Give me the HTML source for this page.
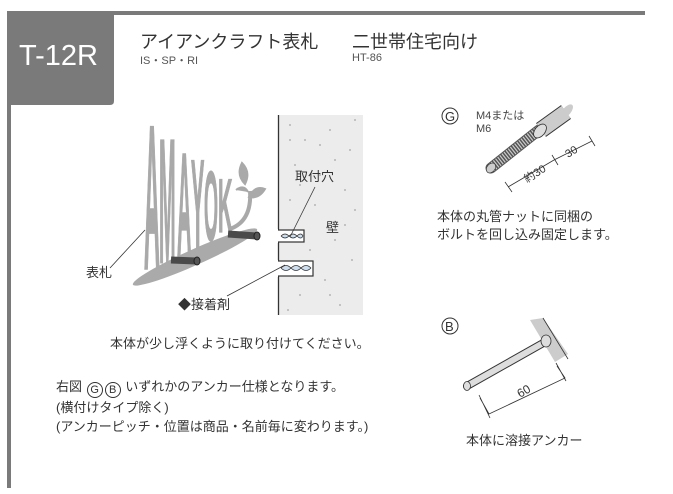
<!DOCTYPE html>
<html><head><meta charset="utf-8"><style>
body{margin:0;background:#fff;width:673px;height:494px;overflow:hidden;position:relative;font-family:"Liberation Sans","Noto Sans CJK JP",sans-serif;color:#333}
.t{position:absolute;white-space:nowrap}
.c{display:inline-block;width:14px;height:14px;border:1px solid #333;border-radius:50%;font-size:11px;line-height:14px;text-align:center;vertical-align:-2px;margin:0 1px}
</style></head><body>
<svg width="673" height="494" style="position:absolute;left:0;top:0">
<rect x="8" y="11" width="637" height="4" fill="#7a7a7a"/>
<rect x="7" y="11" width="4" height="477" fill="#7a7a7a"/>
<path d="M8 17 Q8 13 14 13 L114 13 L114 101 Q114 105 110 105 L8 105 Z" fill="#7a7a7a"/>
<text x="19" y="65" font-size="29" fill="#fff" font-family="Liberation Sans,sans-serif">T-12R</text>
<rect x="278" y="115" width="85" height="200" fill="#ececec"/>
<g fill="#b5b5b5">
<circle cx="290" cy="125" r="1"/><circle cx="305" cy="140" r="1"/><circle cx="330" cy="130" r="1"/><circle cx="350" cy="150" r="1"/><circle cx="295" cy="165" r="1"/><circle cx="320" cy="175" r="1"/><circle cx="345" cy="190" r="1"/><circle cx="315" cy="205" r="1"/><circle cx="335" cy="240" r="1"/><circle cx="352" cy="260" r="1"/><circle cx="325" cy="280" r="1"/><circle cx="300" cy="295" r="1"/><circle cx="340" cy="305" r="1"/><circle cx="290" cy="200" r="1"/><circle cx="355" cy="120" r="1"/><circle cx="310" cy="250" r="1"/><circle cx="345" cy="225" r="1"/><circle cx="288" cy="310" r="1"/><circle cx="320" cy="145" r="1"/><circle cx="300" cy="185" r="1"/><circle cx="335" cy="160" r="1"/><circle cx="355" cy="210" r="1"/><circle cx="330" cy="295" r="1"/><circle cx="290" cy="140" r="1"/></g>
<line x1="278.5" y1="115" x2="278.5" y2="315" stroke="#333" stroke-width="1.3"/>
<rect x="276" y="230" width="28" height="12" fill="#fff" stroke="#333" stroke-width="1.2"/>
<rect x="276" y="261" width="37" height="15" fill="#fff" stroke="#333" stroke-width="1.2"/>
<rect x="272" y="229" width="6" height="14" fill="#fff"/><rect x="272" y="260" width="6" height="17" fill="#fff"/>
<path d="M281 236 q4 4 8 0 q4 4 8 0 q4 4 6 0 M281 236 q4 -4 8 0 q4 -4 8 0 q4-4 6 0" fill="#cde" stroke="#333" stroke-width=".8"/>
<path d="M281 268 q5 5 10 0 q5 5 10 0 q5 5 10 0 M281 268 q5 -5 10 0 q5 -5 10 0 q5 -5 10 0" fill="#cde" stroke="#333" stroke-width=".8"/>
<ellipse cx="195" cy="257" rx="68" ry="8" transform="rotate(-24 195 257)" fill="#aaa"/>
<g fill="#a9a9a9" stroke="#a9a9a9" stroke-width="0.35" font-family="Liberation Sans,sans-serif" font-weight="bold" font-size="20">
<text transform="translate(144,268) scale(1.1,10.2)">A</text>
<text transform="translate(159,262) scale(1.0,8.8)">M</text>
<text transform="translate(177,255) scale(1.0,7.3)">A</text>
<text transform="translate(191,248) scale(1.0,6.3)">Y</text>
<text transform="translate(204,240) scale(0.9,4.9)">O</text>
<text transform="translate(218,232) scale(1.0,3.8)">K</text>
</g>
<path d="M230 229 q22 -8 20 -38" fill="none" stroke="#a9a9a9" stroke-width="4"/>
<path d="M245 184 q-9 -9 -3 -21 q9 9 3 21 Z M249 197 q6 -12 16 -8 q-6 10 -16 8 Z M236 190 q8 -6 12 2" fill="#a9a9a9" stroke="#a9a9a9" stroke-width="2"/>
<line x1="171" y1="260" x2="196" y2="261" stroke="#4a4a4a" stroke-width="7"/>
<ellipse cx="197" cy="261" rx="3" ry="4" fill="#555" stroke="#222"/>
<line x1="228" y1="234" x2="256" y2="236" stroke="#4a4a4a" stroke-width="7"/>
<ellipse cx="257" cy="236" rx="3" ry="4" fill="#555" stroke="#222"/>
<line x1="145" y1="230" x2="110" y2="268" stroke="#333" stroke-width=".8"/>
<line x1="315" y1="187" x2="290" y2="237" stroke="#333" stroke-width=".8"/>
<line x1="285" y1="265" x2="227" y2="296" stroke="#333" stroke-width=".8"/>
<circle cx="450" cy="116" r="8" fill="none" stroke="#333"/>
<text x="445" y="121" font-size="13" fill="#333">G</text>
<line x1="539" y1="130" x2="491" y2="168" stroke="#555" stroke-width="11" stroke-linecap="round"/>
<line x1="539" y1="130" x2="491" y2="168" stroke="#ccc" stroke-width="9" stroke-dasharray="1.2 1.5"/>
<line x1="566" y1="112" x2="541" y2="130" stroke="#333" stroke-width="17"/>
<line x1="566" y1="112" x2="541" y2="130" stroke="#ccc" stroke-width="15"/>
<ellipse cx="540" cy="131" rx="5" ry="8" transform="rotate(40 540 131)" fill="#ddd" stroke="#333" stroke-width=".8"/>
<ellipse cx="567" cy="111" rx="4" ry="8" transform="rotate(40 567 111)" fill="#ccc"/>
<ellipse cx="491" cy="168" rx="4" ry="5.5" transform="rotate(40 491 168)" fill="#ccc" stroke="#333" stroke-width=".6"/>
<path d="M508 187 L554 160 L592 141 M505 182 L512 192 M552 155 L558 165 M589 136 L595 146" stroke="#333" stroke-width=".8" fill="none"/>
<text transform="translate(527,183) rotate(-32)" font-size="11" fill="#333">約30</text>
<text transform="translate(568,158) rotate(-32)" font-size="11" fill="#333">30</text>
<circle cx="450" cy="326" r="8" fill="none" stroke="#333"/>
<text x="445" y="331" font-size="13" fill="#333">B</text>
<path d="M530 320 L543 318 L568 354 L555 362 Z" fill="#ccc"/>
<line x1="543" y1="318" x2="568" y2="359" stroke="#333" stroke-width=".8"/>
<line x1="545" y1="342" x2="467" y2="386" stroke="#333" stroke-width="8" stroke-linecap="round"/>
<line x1="545" y1="342" x2="467" y2="386" stroke="#ddd" stroke-width="6"/>
<ellipse cx="467" cy="386" rx="3.5" ry="4.5" fill="#ddd" stroke="#333" stroke-width=".8"/>
<ellipse cx="546" cy="341" rx="5" ry="6" fill="#ddd" stroke="#333" stroke-width=".8"/>
<path d="M480 398 L489 414 L565 378 L557 366 M479 395 L490 418 M556 363 L566 381" stroke="#333" stroke-width=".8" fill="none"/>
<text transform="translate(520,398) rotate(-30)" font-size="12" fill="#333">60</text>
</svg>
<div class="t" style="left:140px;top:28px;font-size:18px">アイアンクラフト表札</div>
<div class="t" style="left:140px;top:52px;font-size:11px;color:#555">IS・SP・RI</div>
<div class="t" style="left:352px;top:28px;font-size:18px">二世帯住宅向け</div>
<div class="t" style="left:352px;top:52px;font-size:11px;color:#555">HT-86</div>
<div class="t" style="left:295px;top:166px;font-size:13px">取付穴</div>
<div class="t" style="left:326px;top:217px;font-size:13px">壁</div>
<div class="t" style="left:86px;top:262px;font-size:13px">表札</div>
<div class="t" style="left:178px;top:294px;font-size:13px">◆接着剤</div>
<div class="t" style="left:476px;top:110px;font-size:11px;line-height:13px;color:#444">M4または<br>M6</div>
<div class="t" style="left:437px;top:208px;font-size:13px;line-height:18px">本体の丸管ナットに同梱の<br>ボルトを回し込み固定します。</div>
<div class="t" style="left:466px;top:430px;font-size:13px">本体に溶接アンカー</div>
<div class="t" style="left:110px;top:333px;font-size:13px">本体が少し浮くように取り付けてください。</div>
<div class="t" style="left:56px;top:377px;font-size:13px;line-height:19px">右図 <span class="c">G</span><span class="c">B</span> いずれかのアンカー仕様となります。<br>(横付けタイプ除く)<br>(アンカーピッチ・位置は商品・名前毎に変わります。)</div>
</body></html>
